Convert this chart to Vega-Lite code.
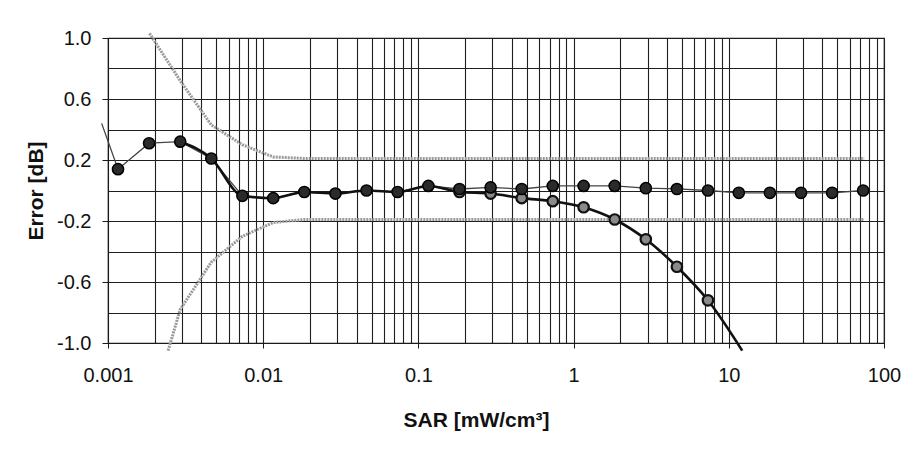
{
  "$schema": "https://vega.github.io/schema/vega-lite/v6.json",
  "width": 776,
  "height": 305,
  "autosize": {"type": "none"},
  "padding": {"left": 108, "top": 38, "right": 32, "bottom": 115},
  "background": "white",
  "config": {
    "view": {"stroke": "#1a1a1a", "strokeWidth": 1.2},
    "font": "Liberation Sans"
  },
  "datasets": {
    "dark": [
      {"x": 0.00091, "y": 0.44, "m": 0},
      {"x": 0.00116, "y": 0.14, "m": 1},
      {"x": 0.00184, "y": 0.31, "m": 1},
      {"x": 0.00292, "y": 0.32, "m": 1},
      {"x": 0.00463, "y": 0.21, "m": 1},
      {"x": 0.00734, "y": -0.035, "m": 1},
      {"x": 0.0116, "y": -0.05, "m": 1},
      {"x": 0.0184, "y": -0.01, "m": 1},
      {"x": 0.0292, "y": -0.02, "m": 1},
      {"x": 0.0463, "y": 0.0, "m": 1},
      {"x": 0.0734, "y": -0.01, "m": 1},
      {"x": 0.116, "y": 0.03, "m": 1},
      {"x": 0.184, "y": 0.01, "m": 1},
      {"x": 0.292, "y": 0.02, "m": 1},
      {"x": 0.463, "y": 0.01, "m": 1},
      {"x": 0.734, "y": 0.03, "m": 1},
      {"x": 1.16, "y": 0.03, "m": 1},
      {"x": 1.84, "y": 0.03, "m": 1},
      {"x": 2.92, "y": 0.015, "m": 1},
      {"x": 4.63, "y": 0.01, "m": 1},
      {"x": 7.34, "y": 0.0, "m": 1},
      {"x": 11.6, "y": -0.015, "m": 1},
      {"x": 18.4, "y": -0.015, "m": 1},
      {"x": 29.2, "y": -0.015, "m": 1},
      {"x": 46.3, "y": -0.015, "m": 1},
      {"x": 73.4, "y": 0.0, "m": 1}
    ],
    "fit": [
      {"x": 0.00292, "y": 0.32, "m": 0},
      {"x": 0.00463, "y": 0.21, "m": 0},
      {"x": 0.00734, "y": -0.035, "m": 0},
      {"x": 0.0116, "y": -0.05, "m": 0},
      {"x": 0.0184, "y": -0.01, "m": 0},
      {"x": 0.0292, "y": -0.02, "m": 0},
      {"x": 0.0463, "y": 0.0, "m": 0},
      {"x": 0.0734, "y": -0.01, "m": 0},
      {"x": 0.116, "y": 0.03, "m": 0},
      {"x": 0.184, "y": -0.01, "m": 1},
      {"x": 0.292, "y": -0.02, "m": 1},
      {"x": 0.463, "y": -0.05, "m": 1},
      {"x": 0.734, "y": -0.07, "m": 1},
      {"x": 1.16, "y": -0.11, "m": 1},
      {"x": 1.84, "y": -0.19, "m": 1},
      {"x": 2.92, "y": -0.32, "m": 1},
      {"x": 4.63, "y": -0.5, "m": 1},
      {"x": 7.34, "y": -0.72, "m": 1},
      {"x": 12.2, "y": -1.05, "m": 0}
    ],
    "limits": [
      {"x": 0.00185, "y": 1.03, "s": "upper"},
      {"x": 0.00292, "y": 0.72, "s": "upper"},
      {"x": 0.00463, "y": 0.43, "s": "upper"},
      {"x": 0.00734, "y": 0.3, "s": "upper"},
      {"x": 0.0116, "y": 0.22, "s": "upper"},
      {"x": 0.0184, "y": 0.21, "s": "upper"},
      {"x": 74.5, "y": 0.21, "s": "upper"},
      {"x": 0.00244, "y": -1.05, "s": "lower"},
      {"x": 0.00292, "y": -0.78, "s": "lower"},
      {"x": 0.00463, "y": -0.47, "s": "lower"},
      {"x": 0.00734, "y": -0.3, "s": "lower"},
      {"x": 0.0116, "y": -0.21, "s": "lower"},
      {"x": 0.0184, "y": -0.19, "s": "lower"},
      {"x": 74.5, "y": -0.19, "s": "lower"}
    ]
  },
  "encoding": {
    "x": {
      "field": "x",
      "type": "quantitative",
      "scale": {"type": "log", "domain": [0.001, 100], "nice": false},
      "axis": {
        "values": [0.001, 0.002, 0.003, 0.004, 0.005, 0.006, 0.007, 0.008, 0.009,
                   0.01, 0.02, 0.03, 0.04, 0.05, 0.06, 0.07, 0.08, 0.09,
                   0.1, 0.2, 0.3, 0.4, 0.5, 0.6, 0.7, 0.8, 0.9,
                   1, 2, 3, 4, 5, 6, 7, 8, 9,
                   10, 20, 30, 40, 50, 60, 70, 80, 90, 100],
        "format": "~g",
        "labelExpr": "abs(log(datum.value)/LN10 - round(log(datum.value)/LN10)) < 0.001 ? datum.label : ''",
        "labelFlush": false,
        "labelOverlap": false,
        "labelFont": "Liberation Sans",
        "labelFontSize": 20,
        "labelColor": "#111",
        "labelPadding": 17,
        "grid": true,
        "gridColor": "#1f1f1f",
        "gridWidth": 1.1,
        "domainColor": "#1a1a1a",
        "tickColor": "#1a1a1a",
        "tickSize": 5,
        "tickOpacity": {"condition": {"test": "abs(log(datum.value)/LN10 - round(log(datum.value)/LN10)) < 0.001", "value": 1}, "value": 0},
        "title": "SAR [mW/cm³]",
        "titleFont": "Liberation Sans",
        "titleFontSize": 21,
        "titleFontWeight": "bold",
        "titleColor": "#111",
        "titlePadding": 24,
        "titleX": 368
      }
    },
    "y": {
      "field": "y",
      "type": "quantitative",
      "scale": {"domain": [-1, 1], "nice": false, "zero": false},
      "axis": {
        "values": [-1, -0.8, -0.6, -0.4, -0.2, 0, 0.2, 0.4, 0.6, 0.8, 1],
        "format": ".1f",
        "labelExpr": "abs((datum.value + 1) / 0.4 - round((datum.value + 1) / 0.4)) < 0.01 ? replace(datum.label, '\u2212', '-') : ''",
        "labelOverlap": false,
        "labelFlush": false,
        "labelFont": "Liberation Sans",
        "labelFontSize": 20,
        "labelColor": "#111",
        "labelPadding": 11,
        "grid": true,
        "gridColor": "#1f1f1f",
        "gridWidth": 1.1,
        "domainColor": "#1a1a1a",
        "tickColor": "#1a1a1a",
        "tickSize": 6,
        "tickOpacity": {"condition": {"test": "abs((datum.value + 1) / 0.4 - round((datum.value + 1) / 0.4)) < 0.01", "value": 1}, "value": 0},
        "title": "Error [dB]",
        "titleFont": "Liberation Sans",
        "titleFontSize": 21,
        "titleFontWeight": "bold",
        "titleColor": "#111",
        "titlePadding": 10
      }
    }
  },
  "layer": [
    {
      "data": {"name": "limits"},
      "mark": {"type": "line", "clip": false, "color": "#9a9a9a", "strokeWidth": 3, "strokeDash": [2, 1]},
      "encoding": {"detail": {"field": "s", "type": "nominal"}}
    },
    {
      "data": {"name": "dark"},
      "mark": {"type": "line", "clip": false, "color": "#444", "strokeWidth": 1.3},
      "encoding": {}
    },
    {
      "data": {"name": "fit"},
      "mark": {"type": "line", "clip": false, "color": "#111", "strokeWidth": 2.6, "interpolate": "monotone"},
      "encoding": {}
    },
    {
      "data": {"name": "fit"},
      "transform": [{"filter": "datum.m == 1"}],
      "mark": {"type": "point", "shape": "circle", "filled": true, "clip": false, "fill": "#8a8a8a", "stroke": "#111", "strokeWidth": 2.2, "size": 110, "opacity": 1}
    },
    {
      "data": {"name": "dark"},
      "transform": [{"filter": "datum.m == 1"}],
      "mark": {"type": "point", "shape": "circle", "filled": true, "clip": false, "fill": "#2a2a2a", "stroke": "#000", "strokeWidth": 1.5, "size": 125, "opacity": 1}
    }
  ]
}
